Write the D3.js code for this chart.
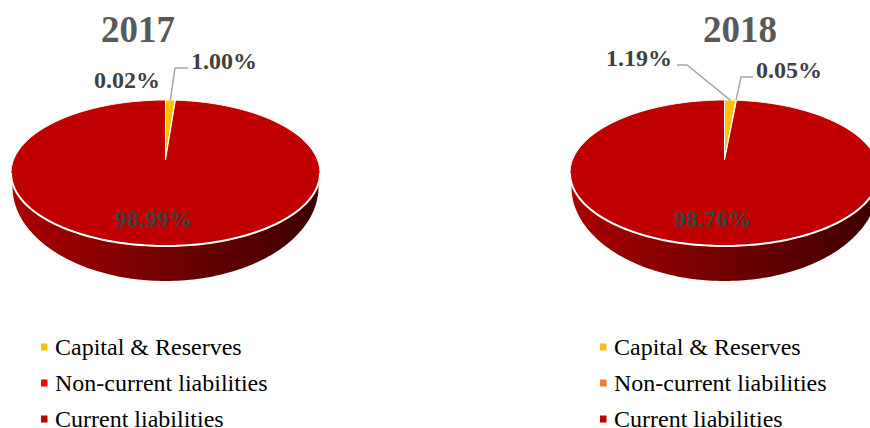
<!DOCTYPE html>
<html lang="en">
<head>
    <meta charset="UTF-8">
    <title>Capital structure 2017 and 2018</title>
    <style>
        html, body { margin: 0; padding: 0; background: #fff; overflow: hidden; }
        svg { display: block; }
        text { font-family: "Liberation Serif", "Times New Roman", serif; }
        .title { font-size: 37px; font-weight: bold; fill: #595959; }
        .pct { font-size: 24px; font-weight: bold; fill: #404040; }
        .legend-label { font-size: 24px; fill: #000; }
    </style>
</head>
<body>
    <div id="chart"></div>
    <script src="https://d3js.org/d3.v7.min.js"></script>
    <script>
        // Data
        const categories = ['Capital & Reserves', 'Non-current liabilities', 'Current liabilities'];
        const years = ['2017', '2018'];
        const shares2017 = [1.00, 0.02, 98.99];
        const shares2018 = [1.19, 0.05, 98.76];
        const colors2017 = ['#ffc000', '#ff0000', '#c00000'];
        const colors2018 = ['#ffc000', '#ed7d31', '#c00000'];

        const width = 870, height = 428;

        // Pie geometry, the apex sits above the ellipse centre because of the perspective
        const rx = 154.5, ry = 73, cy = 173, apexY = 160;
        const lowerRx = 153, lowerRy = 94, lowerCy = 187;

        // Layout of each panel
        const panels = [
            {
                year: years[0], shares: shares2017, colors: colors2017, cx: 165.5, legendX: 41, titleX: 138,
                labels: [[191, 69], [94, 88], [115, 227]],
                leaders: [[[188, 68], [175, 68]], null, null]
            },
            {
                year: years[1], shares: shares2018, colors: colors2018, cx: 724.5, legendX: 600, titleX: 740,
                labels: [[606, 66], [756, 78], [674, 227]],
                leaders: [[[677, 65], [687, 65]], [[753, 77], [741, 77]], null]
            }
        ];

        const svg = d3.select('#chart').append('svg')
            .attr('width', width)
            .attr('height', height);

        const defs = svg.append('defs');

        const legendY = d3.scalePoint().domain(categories).range([347, 419]);
        const pie = d3.pie().sort(null).value(d => d);

        function rimPoint(cx, a) {
            return [cx + rx * Math.sin(a), cy - ry * Math.cos(a)];
        }

        function slicePath(cx, d) {
            const n = Math.max(2, Math.ceil((d.endAngle - d.startAngle) * 60));
            const pts = d3.range(n + 1).map(i =>
                rimPoint(cx, d.startAngle + (d.endAngle - d.startAngle) * i / n));
            return d3.line()([[cx, apexY], ...pts]) + 'Z';
        }

        // front half of the top ellipse, left to right through the bottom
        function frontEdge(cx) {
            return d3.range(0, 121).map(i => {
                const t = Math.PI * i / 120;
                return [cx + rx * Math.cos(t), cy + ry * Math.sin(t)];
            });
        }

        function sidePath(cx) {
            const bottom = d3.range(120, -1, -1).map(i => {
                const t = Math.PI * i / 120;
                return [cx + lowerRx * Math.cos(t), lowerCy + lowerRy * Math.sin(t)];
            });
            return d3.line()([...frontEdge(cx), ...bottom]) + 'Z';
        }

        panels.forEach((p, idx) => {
            const g = svg.append('g');
            const color = d3.scaleOrdinal().domain(categories).range(p.colors);
            const arcs = pie(p.shares);

            // Side of the disc
            const gradId = 'side' + idx;
            const grad = defs.append('linearGradient').attr('id', gradId);
            grad.append('stop').attr('offset', '0%').attr('stop-color', '#aa0000');
            grad.append('stop').attr('offset', '50%').attr('stop-color', '#720000');
            grad.append('stop').attr('offset', '100%').attr('stop-color', '#3c0000');

            g.append('path')
                .attr('d', sidePath(p.cx))
                .attr('fill', `url(#${gradId})`);

            // Top of the disc
            g.selectAll('.slice')
                .data(arcs)
                .join('path')
                .attr('class', 'slice')
                .attr('d', d => slicePath(p.cx, d))
                .attr('fill', (d, i) => color(categories[i]))
                .attr('stroke', '#fff')
                .attr('stroke-width', 1)
                .attr('stroke-linejoin', 'round');

            // The lit rim along the front edge
            g.append('path')
                .attr('d', d3.line()(frontEdge(p.cx)))
                .attr('fill', 'none')
                .attr('stroke', '#fff')
                .attr('stroke-width', 2);

            // Leader lines go from the label to the middle of the slice rim
            p.leaders.forEach((leader, i) => {
                if (!leader) return;
                const end = rimPoint(p.cx, (arcs[0].startAngle + arcs[0].endAngle) / 2 + (i ? arcs[0].endAngle / 2 : 0));
                g.append('path')
                    .attr('d', d3.line()([...leader, end]))
                    .attr('fill', 'none')
                    .attr('stroke', '#a6a6a6')
                    .attr('stroke-width', 1.5);
            });

            g.append('text')
                .attr('class', 'title')
                .attr('x', p.titleX)
                .attr('y', 42)
                .attr('text-anchor', 'middle')
                .text(p.year);

            g.selectAll('.pct')
                .data(p.shares)
                .join('text')
                .attr('class', 'pct')
                .attr('x', (d, i) => p.labels[i][0])
                .attr('y', (d, i) => p.labels[i][1])
                .text(d => d.toFixed(2) + '%');

            // Legend
            const rows = g.selectAll('.legend-row')
                .data(categories)
                .join('g')
                .attr('class', 'legend-row')
                .attr('transform', d => `translate(${p.legendX},${legendY(d)})`);
            rows.append('rect')
                .attr('y', -3.5)
                .attr('width', 6.5)
                .attr('height', 7)
                .attr('fill', d => color(d));
            rows.append('text')
                .attr('class', 'legend-label')
                .attr('x', 14)
                .attr('y', 8)
                .text(d => d);
        });
    </script>
</body>
</html>
